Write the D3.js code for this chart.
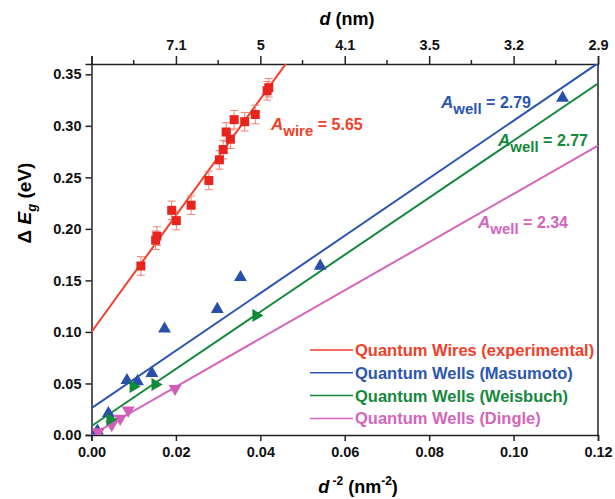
<!DOCTYPE html>
<meta charset="utf-8">
<title>Band gap shift vs d^-2</title>
<style>
  body { margin: 0; background: #fff; }
  svg { font-family: "Liberation Sans", Arial, sans-serif; font-weight: bold; }
  .axis path, .axis line { stroke: #222; stroke-width: 1.5px; }
  .axis text { font-size: 14.5px; font-weight: bold; fill: #111; font-family: "Liberation Sans", Arial, sans-serif; }
  .legend text { font-size: 16.5px; font-weight: bold; }
</style>
<body>
<svg width="615" height="499"></svg>
<script src="https://d3js.org/d3.v7.min.js"></script>
<script>
  // quantum wires (experimental), x = d^-2 (nm^-2), y = dEg (eV), err = +/- eV
  var wireX = [0.0117, 0.0152, 0.0155, 0.0190, 0.0201, 0.0236, 0.0278, 0.0303, 0.0312, 0.0319, 0.0329, 0.0338, 0.0363, 0.0388, 0.0416, 0.0420];
  var wireY = [0.164, 0.189, 0.193, 0.218, 0.208, 0.223, 0.247, 0.267, 0.277, 0.294, 0.287, 0.306, 0.304, 0.311, 0.334, 0.337];
  var wireErr = 0.009;

  // quantum wells
  var masX = [0.0014, 0.0040, 0.0084, 0.0109, 0.0143, 0.0173, 0.0298, 0.0353, 0.0542, 0.1116];
  var masY = [0.004, 0.021, 0.053, 0.052, 0.060, 0.103, 0.122, 0.153, 0.164, 0.327];
  var weiX = [0.0044, 0.0099, 0.0151, 0.0390];
  var weiY = [0.015, 0.047, 0.049, 0.116];
  var dinX = [0.0016, 0.0048, 0.0068, 0.0087, 0.0198];
  var dinY = [0.003, 0.010, 0.016, 0.024, 0.045];

  // fitted lines: dEg = b + A * d^-2
  var fitNames = ["Quantum Wires (experimental)", "Quantum Wells (Masumoto)", "Quantum Wells (Weisbuch)", "Quantum Wells (Dingle)"];
  var fitSlopes = [5.65, 2.79, 2.77, 2.34];
  var fitIntercepts = [0.100, 0.026, 0.0087, 0.0];
  var fitColors = ["#f0402a", "#2b55b0", "#14893c", "#d564bb"];
  var fitLabels = ["wire", "well", "well", "well"];

  // axes
  var bottomTicks = [0, 0.02, 0.04, 0.06, 0.08, 0.10, 0.12];
  var topTicks = [0.02, 0.04, 0.06, 0.08, 0.10, 0.12];
  var topLabels = ["7.1", "5", "4.1", "3.5", "3.2", "2.9"];
  var topMinor = [0.01, 0.03, 0.05, 0.07, 0.09, 0.11];
  var leftTicks = [0, 0.05, 0.10, 0.15, 0.20, 0.25, 0.30, 0.35];

  const svg = d3.select("svg");
  const mLeft = 91.5, mRight = 598, mTop = 64, mBottom = 435;

  var x = d3.scaleLinear().domain([0, 0.12]).range([mLeft, mRight]);
  var y = d3.scaleLinear().domain([0, 0.36]).range([mBottom, mTop]);

  svg.append("clipPath").attr("id", "clip")
    .append("rect").attr("x", mLeft).attr("y", mTop).attr("width", mRight - mLeft).attr("height", mBottom - mTop);

  // frame
  svg.append("line").attr("x1", mRight).attr("x2", mRight).attr("y1", mTop).attr("y2", mBottom)
    .attr("stroke", "#222").attr("stroke-width", 1.5);

  svg.append("g").attr("class", "axis")
    .attr("transform", "translate(0," + mBottom + ")")
    .call(d3.axisBottom(x).tickValues(bottomTicks).tickFormat(d3.format(".2f")).tickSizeOuter(0).tickSize(6).tickPadding(6));

  svg.append("g").attr("class", "axis")
    .attr("transform", "translate(" + mLeft + ",0)")
    .call(d3.axisLeft(y).tickValues(leftTicks).tickFormat(d3.format(".2f")).tickSizeOuter(0).tickSize(6).tickPadding(4));

  var topAxis = svg.append("g").attr("class", "axis")
    .attr("transform", "translate(0," + mTop + ")")
    .call(d3.axisTop(x).tickValues([0].concat(topTicks)).tickFormat(function (d, i) { return i == 0 ? "" : topLabels[i - 1]; })
      .tickSizeOuter(0).tickSize(8).tickPadding(6));
  topAxis.selectAll(".minor").data(topMinor).enter().append("line")
    .attr("class", "minor")
    .attr("x1", d => x(d)).attr("x2", d => x(d))
    .attr("y1", 0).attr("y2", -4);

  // axis titles
  svg.append("text").attr("x", 347).attr("y", 25).attr("text-anchor", "middle")
    .style("font-size", "18px")
    .html('<tspan font-style="italic">d</tspan> (nm)');

  svg.append("text").attr("x", 358).attr("y", 493).attr("text-anchor", "middle")
    .style("font-size", "18px")
    .html('<tspan font-style="italic">d</tspan><tspan dy="-8" font-size="12px"> -2</tspan><tspan dy="8"> (nm</tspan><tspan dy="-8" font-size="12px">-2</tspan><tspan dy="8">)</tspan>');

  svg.append("text").attr("transform", "translate(31,203) rotate(-90)").attr("text-anchor", "middle")
    .style("font-size", "19px")
    .html('Δ <tspan font-style="italic">E</tspan><tspan dy="5" font-size="13px" font-style="italic">g</tspan><tspan dy="-5"> (eV)</tspan>');

  // fit lines
  var plot = svg.append("g").attr("clip-path", "url(#clip)");
  fitSlopes.forEach(function (a, i) {
    plot.append("line")
      .attr("x1", x(0)).attr("y1", y(fitIntercepts[i]))
      .attr("x2", x(0.12)).attr("y2", y(fitIntercepts[i] + a * 0.12))
      .attr("stroke", fitColors[i]).attr("stroke-width", 2);
  });

  // wire points with error bars
  var wire = d3.range(wireX.length);
  var eb = plot.append("g").attr("stroke", "#f08070").attr("stroke-width", 1);
  wire.forEach(function (i) {
    var cx = x(wireX[i]);
    eb.append("line").attr("x1", cx).attr("x2", cx).attr("y1", y(wireY[i] - wireErr)).attr("y2", y(wireY[i] + wireErr));
    eb.append("line").attr("x1", cx - 4).attr("x2", cx + 4).attr("y1", y(wireY[i] - wireErr)).attr("y2", y(wireY[i] - wireErr));
    eb.append("line").attr("x1", cx - 4).attr("x2", cx + 4).attr("y1", y(wireY[i] + wireErr)).attr("y2", y(wireY[i] + wireErr));
  });
  plot.selectAll(".sq").data(wire).enter().append("rect")
    .attr("x", i => x(wireX[i]) - 4.5).attr("y", i => y(wireY[i]) - 4.5)
    .attr("width", 9).attr("height", 9).attr("fill", "#e8241e");

  var tri = d3.symbol().type(d3.symbolTriangle).size(72);
  function markers(xs, ys, color, rot) {
    plot.append("g").selectAll("path").data(d3.range(xs.length)).enter().append("path")
      .attr("d", tri)
      .attr("fill", color)
      .attr("transform", i => "translate(" + x(xs[i]) + "," + y(ys[i]) + ") rotate(" + rot + ")");
  }
  markers(masX, masY, "#2850aa", 0);
  markers(dinX, dinY, "#d25cb8", 180);
  markers(weiX, weiY, "#128a3a", 90);

  // slope annotations
  var notePos = [[271, 130], [441, 108], [498, 146], [478, 228]];
  fitSlopes.forEach(function (a, i) {
    svg.append("text").attr("x", notePos[i][0]).attr("y", notePos[i][1])
      .attr("fill", fitColors[i]).style("font-size", "16px")
      .html('<tspan font-style="italic" font-size="17px">A</tspan><tspan dy="6" font-size="15px">' + fitLabels[i] + '</tspan><tspan dy="-6"> = ' + a.toFixed(2) + '</tspan>');
  });

  // legend
  var legend = svg.append("g").attr("class", "legend");
  fitNames.forEach(function (n, i) {
    var ly = 350 + i * 22.8;
    legend.append("line").attr("x1", 310).attr("x2", 353).attr("y1", ly).attr("y2", ly)
      .attr("stroke", fitColors[i]).attr("stroke-width", 1.5);
    legend.append("text").attr("x", 355).attr("y", ly + 6).attr("fill", fitColors[i]).text(n);
  });
</script>
</body>
